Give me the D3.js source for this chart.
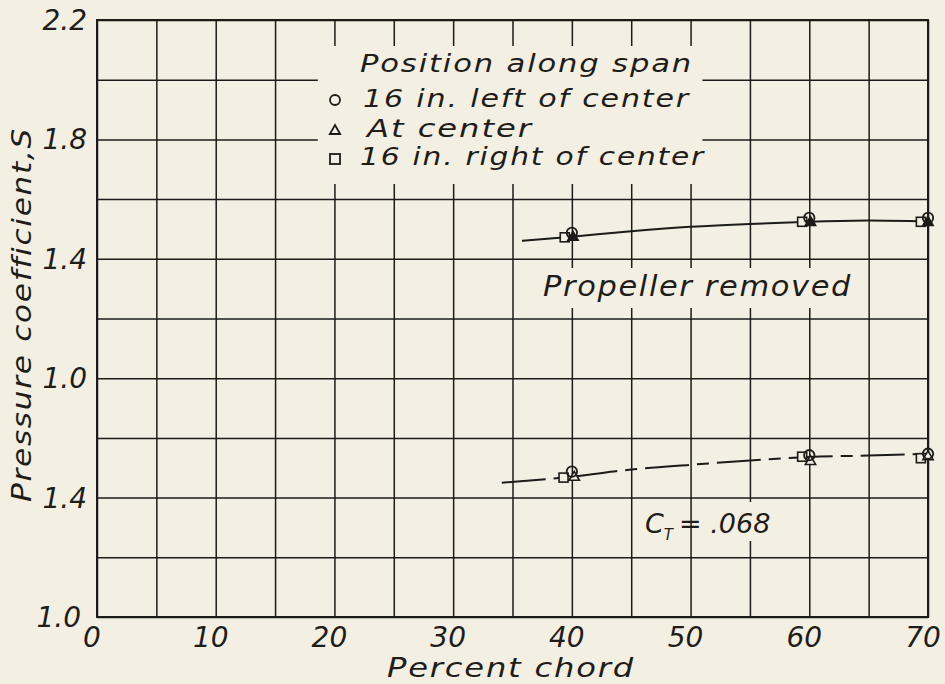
<!DOCTYPE html>
<html>
<head>
<meta charset="utf-8">
<script src="https://cdn.jsdelivr.net/npm/d3@7"></script>
<style>
  html, body { margin: 0; padding: 0; background: #f4efe3; }
  svg { display: block; }
  text { font-family: "DejaVu Sans", sans-serif; font-style: italic; fill: #1e1d1a; }
</style>
</head>
<body>
<svg id="chart" width="945" height="684"></svg>
<script>
// x ticks (percent chord) and the two y scales used in the figure
var xTicks = [0, 10, 20, 30, 40, 50, 60, 70];
var yTopTicks = [2.2, 1.8, 1.4, 1.0];
var yBotTicks = [1.4, 1.0];

// Propeller removed (upper scale)
var removedCircle = [[40, 1.487], [60, 1.537], [70, 1.537]];
var removedTriangle = [[40.1, 1.472], [60.1, 1.522], [70, 1.522]];
var removedSquare = [[39.4, 1.472], [59.4, 1.524], [69.4, 1.524]];
var removedCurve = [[35.8, 1.460], [40, 1.474], [45, 1.492], [50, 1.507], [55, 1.517], [60, 1.524], [65, 1.528], [70, 1.525]];

// C_T = .068 (lower scale)
var thrustCircle = [[40, 1.487], [60, 1.542], [70, 1.547]];
var thrustTriangle = [[40.2, 1.468], [60.1, 1.521], [70, 1.537]];
var thrustSquare = [[39.3, 1.467], [59.4, 1.537], [69.4, 1.532]];
var thrustCurve = [[34.1, 1.450], [40, 1.470], [45, 1.494], [50, 1.510], [55, 1.524], [60, 1.536], [65, 1.541], [70, 1.547]];

var legendTitle = "Position along span";
var legendLabels = ["16 in. left of center", "At center", "16 in. right of center"];

var ink = "#1c1b18";
var paper = "#f4efe3";
var margin = { top: 20, right: 17, bottom: 67, left: 97 };
var width = 945 - margin.left - margin.right;
var height = 684 - margin.top - margin.bottom;

var svg = d3.select("#chart");
svg.append("rect").attr("width", 945).attr("height", 684).attr("fill", paper);

var g = svg.append("g").attr("transform", `translate(${margin.left},${margin.top})`);

/* Scales */
var x = d3.scaleLinear().domain([0, 70]).range([0, width]);
var yTop = d3.scaleLinear().domain([0.2, 2.2]).range([height, 0]);
var yBot = d3.scaleLinear().domain([1.0, 3.0]).range([height, 0]);

/* Grid */
g.append("g")
  .attr("transform", `translate(0,${height})`)
  .call(d3.axisBottom(x).tickValues(d3.range(0, 71, 5)).tickSize(-height).tickFormat(""))
  .call(s => s.select(".domain").remove())
  .selectAll("line").attr("stroke", ink).attr("stroke-width", 1.5);

g.append("g")
  .call(d3.axisLeft(yTop).tickValues(d3.range(0.2, 2.21, 0.2)).tickSize(-width).tickFormat(""))
  .call(s => s.select(".domain").remove())
  .selectAll("line").attr("stroke", ink).attr("stroke-width", 1.5);

g.append("rect")
  .attr("width", width).attr("height", height)
  .attr("fill", "none").attr("stroke", ink).attr("stroke-width", 2);

/* Masks behind the lettering */
g.append("rect").attr("x", x(18.6)).attr("y", 26).attr("width", x(51) - x(18.6)).attr("height", 138).attr("fill", paper);
g.append("rect").attr("x", x(36.5)).attr("y", 248).attr("width", x(64.2) - x(36.5)).attr("height", 40).attr("fill", paper);
g.append("rect").attr("x", x(51)).attr("y", 482).attr("width", x(57.5) - x(51)).attr("height", 39).attr("fill", paper);

// lettering: stretched a little so the glyphs come out wide like the stencil
function letter(sel, w) {
  return sel.attr("letter-spacing", 1.5)
    .attr("textLength", w).attr("lengthAdjust", "spacingAndGlyphs");
}

/* Tick labels */
var tickFont = 28;
g.selectAll(".xlab").data(xTicks).enter().append("text")
  .attr("x", d => x(d) - 5).attr("y", height + 30)
  .attr("text-anchor", "middle").attr("font-size", tickFont)
  .text(d => d);

g.selectAll(".ytop").data(yTopTicks).enter().append("text")
  .attr("x", -10).attr("y", d => yTop(d) + 10)
  .attr("text-anchor", "end").attr("font-size", tickFont)
  .text(d => d3.format(".1f")(d));

g.selectAll(".ybot").data(yBotTicks).enter().append("text")
  .attr("x", d => d === 1.0 ? -16 : -10).attr("y", d => yBot(d) + 10)
  .attr("text-anchor", "end").attr("font-size", tickFont)
  .text(d => d3.format(".1f")(d));

/* Axis titles */
svg.append("text")
  .attr("x", 387).attr("y", 677)
  .attr("font-size", 27)
  .call(letter, 248)
  .text("Percent chord");

svg.append("text")
  .attr("transform", "translate(31,502) rotate(-90)")
  .attr("font-size", 27)
  .call(letter, 375)
  .text("Pressure coefficient,S");

/* Curves */
var lineTop = d3.line().x(d => x(d[0])).y(d => yTop(d[1])).curve(d3.curveMonotoneX);
var lineBot = d3.line().x(d => x(d[0])).y(d => yBot(d[1])).curve(d3.curveMonotoneX);

g.append("path").datum(removedCurve).attr("d", lineTop)
  .attr("fill", "none").attr("stroke", ink).attr("stroke-width", 2);

g.append("path").datum(thrustCurve).attr("d", lineBot)
  .attr("fill", "none").attr("stroke", ink).attr("stroke-width", 2)
  .attr("stroke-dasharray", "44,8,12,8");

/* Markers */
var tri = d3.symbol().type(d3.symbolTriangle).size(46);

function drawSquares(data, y) {
  g.selectAll(null).data(data).enter().append("rect")
    .attr("x", d => x(d[0]) - 4.5).attr("y", d => y(d[1]) - 4.5)
    .attr("width", 9).attr("height", 9)
    .attr("fill", paper).attr("stroke", ink).attr("stroke-width", 1.6);
}
function drawTriangles(data, y, fill) {
  g.selectAll(null).data(data).enter().append("path")
    .attr("d", tri)
    .attr("transform", d => `translate(${x(d[0])},${y(d[1])})`)
    .attr("fill", fill).attr("stroke", ink).attr("stroke-width", 1.6);
}
function drawCircles(data, y) {
  g.selectAll(null).data(data).enter().append("circle")
    .attr("cx", d => x(d[0])).attr("cy", d => y(d[1])).attr("r", 5.2)
    .attr("fill", "none").attr("stroke", ink).attr("stroke-width", 1.8);
}

drawSquares(removedSquare, yTop);
drawTriangles(removedTriangle, yTop, ink);
drawCircles(removedCircle, yTop);

drawSquares(thrustSquare, yBot);
drawTriangles(thrustTriangle, yBot, paper);
drawCircles(thrustCircle, yBot);

/* Legend */
var legend = svg.append("g");
legend.append("text")
  .attr("x", 360).attr("y", 72).attr("font-size", 25)
  .call(letter, 333)
  .text(legendTitle);

var legendRows = [
  { x: 363, y: 107, width: 327, label: legendLabels[0] },
  { x: 367, y: 137, width: 166, label: legendLabels[1] },
  { x: 360, y: 165, width: 345, label: legendLabels[2] }
];
legendRows.forEach(function (r) {
  legend.append("text")
    .attr("x", r.x).attr("y", r.y).attr("font-size", 25)
    .call(letter, r.width)
    .text(r.label);
});

legend.append("circle").attr("cx", 335).attr("cy", 100).attr("r", 5)
  .attr("fill", "none").attr("stroke", ink).attr("stroke-width", 1.8);
legend.append("path").attr("d", tri).attr("transform", "translate(335,131)")
  .attr("fill", "none").attr("stroke", ink).attr("stroke-width", 1.8);
legend.append("rect").attr("x", 330).attr("y", 154).attr("width", 10).attr("height", 10)
  .attr("fill", "none").attr("stroke", ink).attr("stroke-width", 1.8);

/* Curve labels */
svg.append("text")
  .attr("x", 543).attr("y", 296).attr("font-size", 28)
  .call(letter, 309)
  .text("Propeller removed");

var ct = svg.append("text").attr("x", 645).attr("y", 533).attr("font-size", 27);
ct.append("tspan").text("C");
ct.append("tspan").attr("font-size", 15).attr("dy", 7).text("T");
ct.append("tspan").attr("dy", -7).attr("dx", 6).text("= .068");
</script>
</body>
</html>
